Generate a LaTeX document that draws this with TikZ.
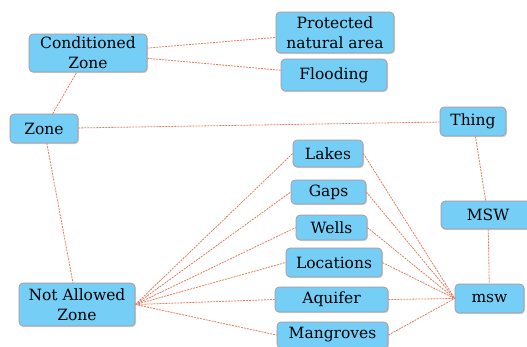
\documentclass[tikz,border=0pt]{standalone}
\usepackage{fontspec}
\setmainfont{DejaVu Serif}
\usetikzlibrary{shadows}
\definecolor{boxfill}{RGB}{116,206,246}
\definecolor{boxline}{RGB}{180,145,140}
\definecolor{linkcol}{RGB}{230,125,95}
\tikzset{
  box/.style={draw=boxline, line width=0.6pt, fill=boxfill, rounded corners=4pt,
    inner sep=0pt, align=center, font=\fontsize{15.5}{20}\selectfont,
    drop shadow={opacity=0.35, shadow xshift=1pt, shadow yshift=-1.2pt}},
  link/.style={draw=linkcol, line width=0.8pt, dash pattern=on 2pt off 1pt}
}
\begin{document}
\begin{tikzpicture}[x=1pt,y=-1pt]
\useasboundingbox (0,0) rectangle (527,346);
\node[box, minimum width=118pt, minimum height=38pt] (cond) at (88,53) {Conditioned\\Zone};
\node[box, minimum width=118pt, minimum height=41pt] (prot) at (335,32.5) {Protected\\natural area};
\node[box, minimum width=106pt, minimum height=32pt] (flood) at (334,75) {Flooding};
\node[box, minimum width=68pt, minimum height=29pt] (zone) at (44,128.5) {Zone};
\node[box, minimum width=66pt, minimum height=29pt] (thing) at (473,121.5) {Thing};
\node[box, minimum width=70pt, minimum height=27pt] (lakes) at (328,153.5) {Lakes};
\node[box, minimum width=75pt, minimum height=24pt] (gaps) at (328.5,192) {Gaps};
\node[box, minimum width=71pt, minimum height=25pt] (wells) at (331.5,227.5) {Wells};
\node[box, minimum width=96pt, minimum height=29pt] (loc) at (334,262.5) {Locations};
\node[box, minimum width=113pt, minimum height=25pt] (aqu) at (331.5,299.5) {Aquifer};
\node[box, minimum width=111pt, minimum height=26pt] (mang) at (332.5,335) {Mangroves};
\node[box, minimum width=116pt, minimum height=43pt] (naz) at (77,304.5) {Not Allowed\\Zone};
\node[box, minimum width=94pt, minimum height=28pt] (MSW) at (488,215) {MSW};
\node[box, minimum width=69pt, minimum height=29pt] (msw) at (489.5,298.5) {msw};
\draw[link] (cond) -- (prot);
\draw[link] (cond) -- (flood);
\draw[link] (zone) -- (cond);
\draw[link] (zone) -- (thing);
\draw[link] (zone) -- (naz);
\draw[link] (thing) -- (MSW);
\draw[link] (MSW) -- (msw);
\foreach \n in {lakes,gaps,wells,loc,aqu,mang}{
  \draw[link] (naz.east) -- (\n.west);
  \draw[link] (\n.east) -- (msw.west);
}
\end{tikzpicture}
\end{document}
